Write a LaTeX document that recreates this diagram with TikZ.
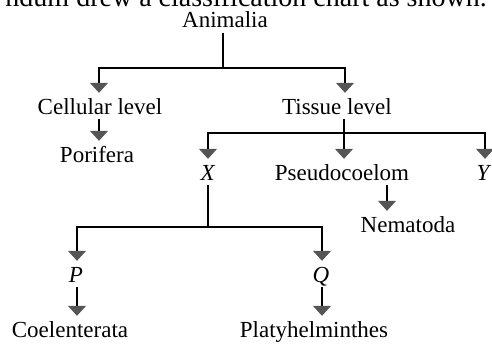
\documentclass[tikz,border=0pt]{standalone}
\usepackage{fontspec}
\setmainfont{Liberation Serif}
\usetikzlibrary{arrows.meta}
\definecolor{tipgray}{HTML}{555555}
\begin{document}
\begin{tikzpicture}[x=1pt,y=-1pt,
  lbl/.style={inner sep=0pt,anchor=base,text height=21pt,text depth=5pt,
    font=\fontsize{23}{24}\selectfont},
  conn/.style={line width=1.1pt,black},
  arr/.style={conn,-{Triangle[width=18pt,length=10pt,fill=tipgray,color=tipgray]}}]
\useasboundingbox (0,0) rectangle (492,343);
\clip (0,0) rectangle (492,343);
\node[inner sep=0pt,anchor=base east,font=\fontsize{28}{30}\selectfont] (head) at (487,6) {ndum drew a classification chart as shown.};
\node[lbl,text height=15pt,text depth=6pt] (anim) at (225,27) {Animalia};
\node[lbl] (cell) at (100,114) {Cellular level};
\node[lbl] (tiss) at (337,114) {Tissue level};
\node[lbl] (por) at (97,162) {Porifera};
\node[lbl] (X) at (208,180) {\textit{X}};
\node[lbl] (pseudo) at (342,180) {Pseudocoelom};
\node[lbl] (Y) at (484,180) {\textit{Y}};
\node[lbl] (nema) at (408,232) {Nematoda};
\node[lbl] (P) at (76,282) {\textit{P}};
\node[lbl] (Q) at (321,282) {\textit{Q}};
\node[lbl] (coel) at (70,337) {Coelenterata};
\node[lbl] (platy) at (314,337) {Platyhelminthes};
% Animalia
\coordinate (j1) at ([xshift=-2pt]anim.south |- 0,68);
\draw[conn] ([xshift=-2pt]anim.south) -- (j1);
\draw[arr] (j1) -| ([xshift=-1pt]cell.north);
\draw[arr] (j1) -| ([xshift=8pt]tiss.north);
% Cellular -> Porifera
\draw[arr] ([xshift=-1pt]cell.south) -- ([xshift=-1pt]cell.south |- por.north);
% Tissue level
\coordinate (j2) at ([xshift=7pt]tiss.south |- 0,133);
\draw[conn] ([xshift=7pt]tiss.south) -- (j2);
\draw[arr] (j2) -| (X.north);
\draw[arr] (j2) -| ([xshift=1pt]Y.north);
\draw[arr] (j2) -- (j2 |- pseudo.north);
% Pseudocoelom -> Nematoda
\draw[arr] ([xshift=45pt]pseudo.south) -- ([xshift=45pt]pseudo.south |- nema.north);
% X
\coordinate (j3) at (X.south |- 0,227);
\draw[conn] (X.south) -- (j3);
\draw[arr] (j3) -| ([xshift=1pt]P.north);
\draw[arr] (j3) -| ([xshift=1pt]Q.north);
% P, Q
\draw[arr] ([xshift=1pt]P.south) -- ([xshift=1pt]P.south |- coel.north);
\draw[arr] ([xshift=1pt]Q.south) -- ([xshift=1pt]Q.south |- platy.north);
\end{tikzpicture}
\end{document}
